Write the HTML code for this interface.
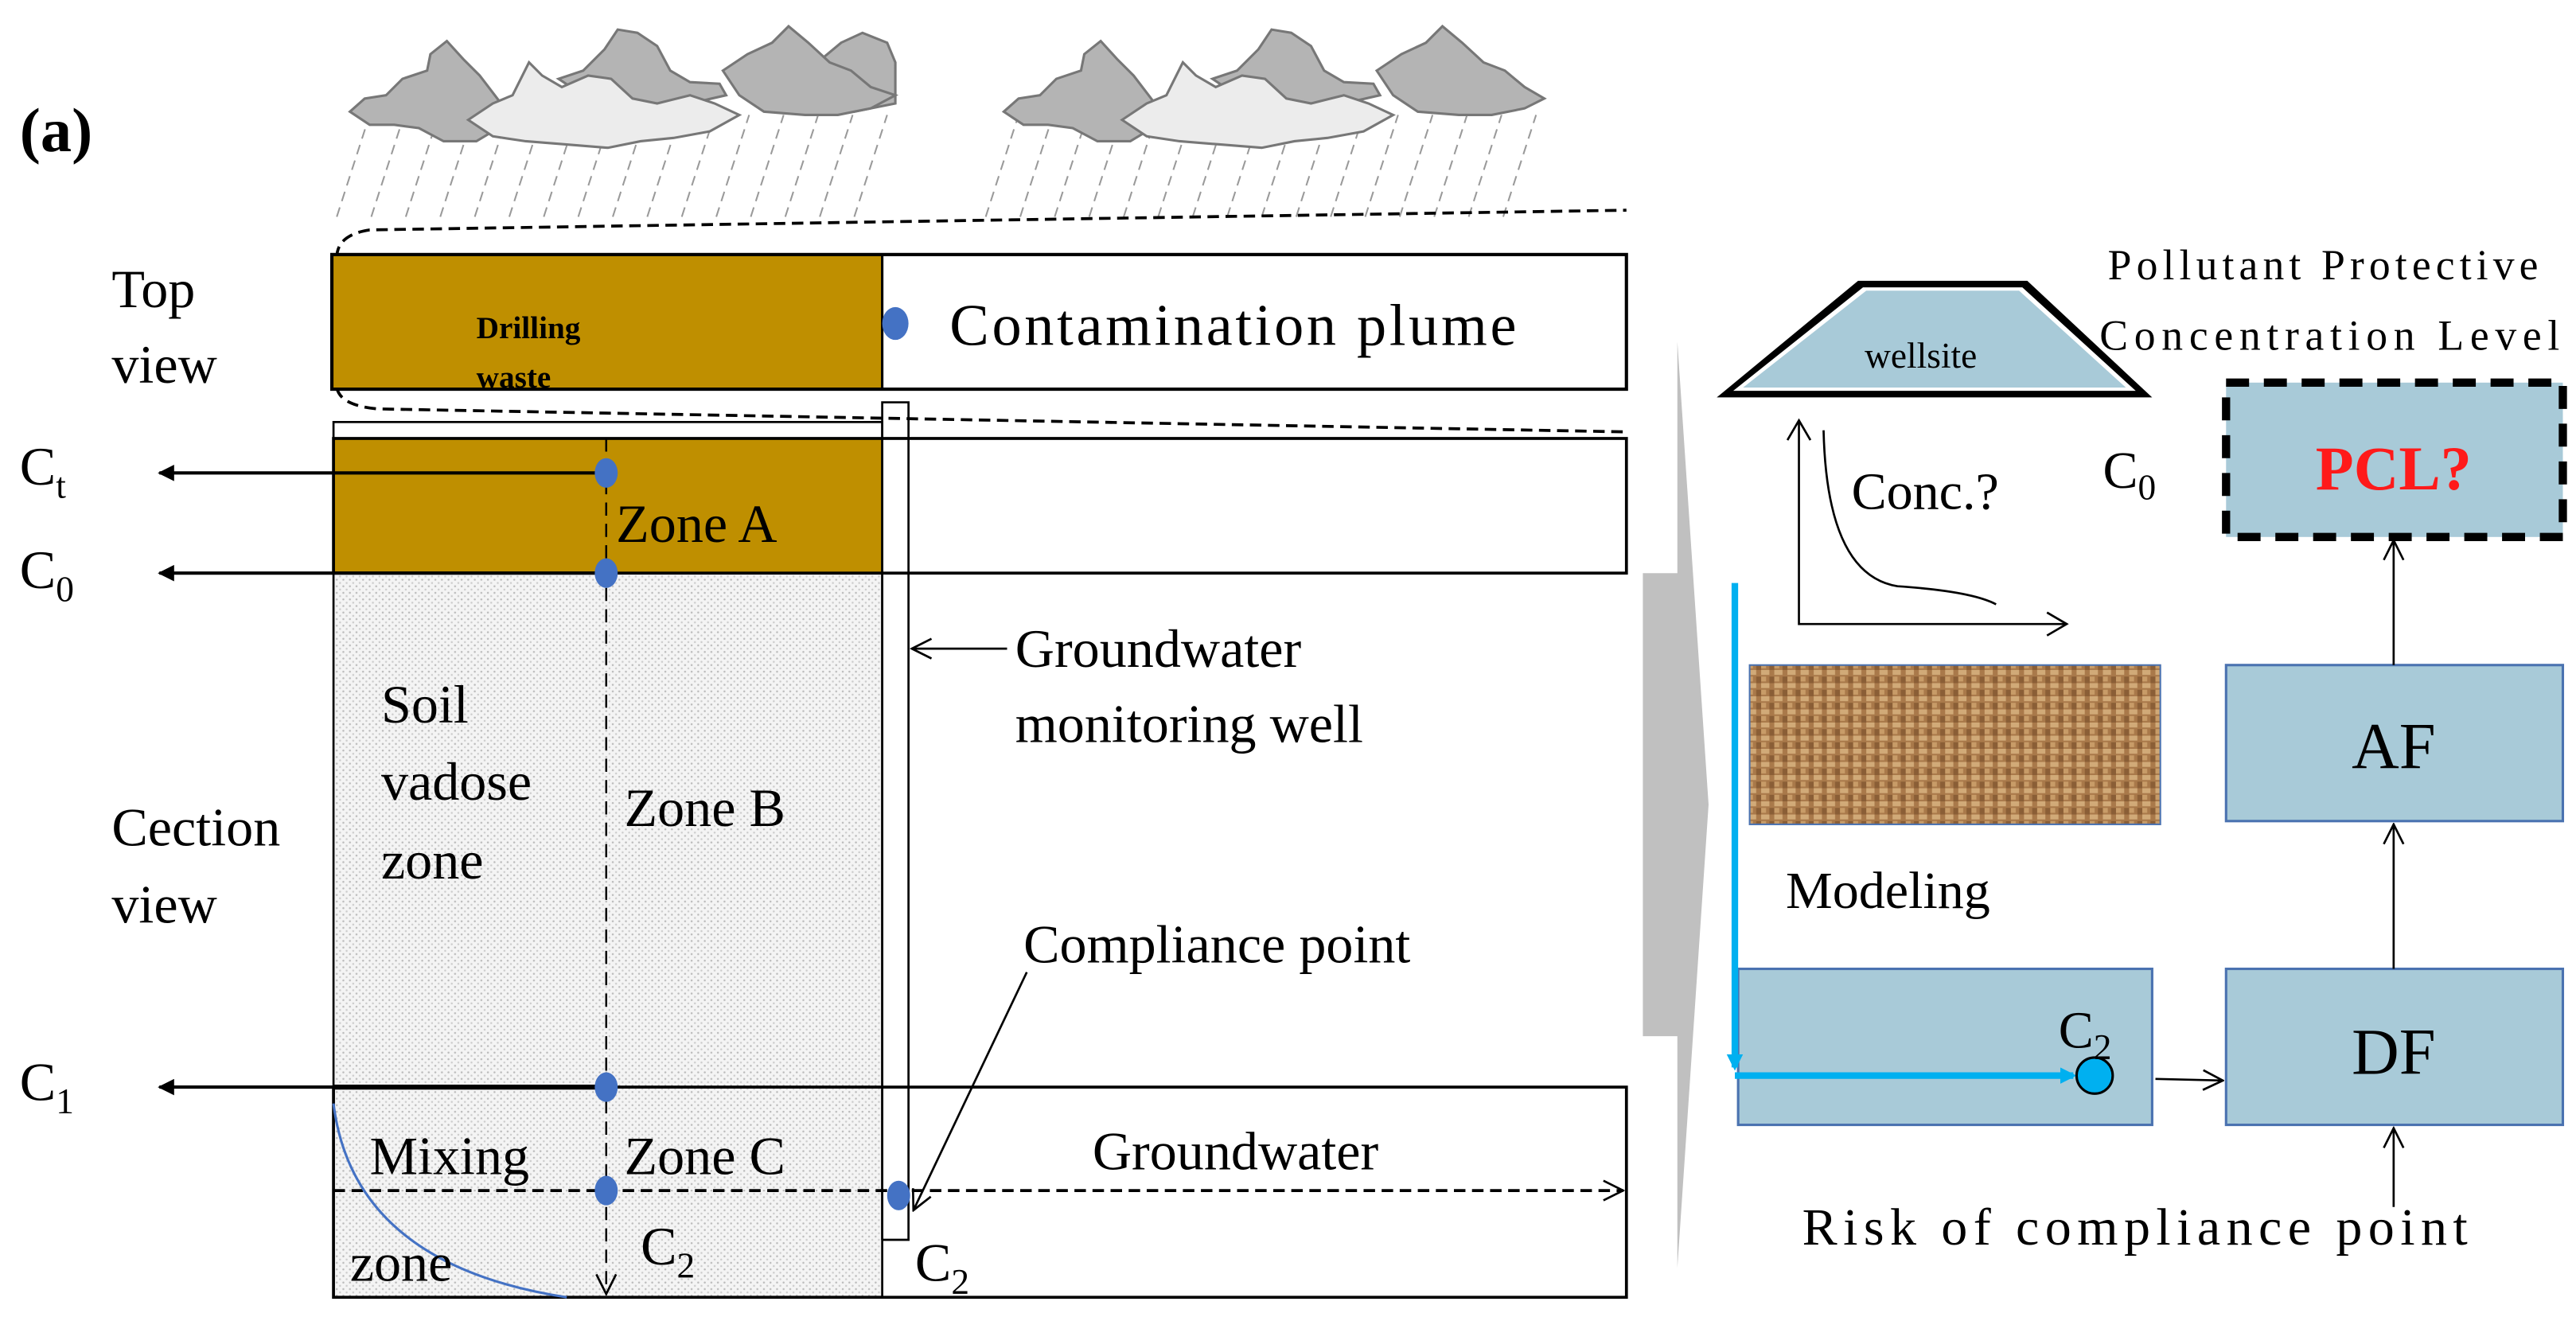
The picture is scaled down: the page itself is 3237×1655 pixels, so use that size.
<!DOCTYPE html>
<html><head><meta charset="utf-8"><style>
html,body{margin:0;padding:0;background:#fff;}
svg{display:block;}
text{font-family:"Liberation Serif",serif;fill:#000;}
</style></head><body>
<svg width="3237" height="1655" viewBox="0 0 1568 802" preserveAspectRatio="none" xmlns="http://www.w3.org/2000/svg">
<defs>
<pattern id="dots" width="4" height="4" patternUnits="userSpaceOnUse">
<rect width="4" height="4" fill="#f4f4f4"/><circle cx="1" cy="1" r="0.6" fill="#bbb"/><circle cx="3" cy="3" r="0.6" fill="#ccc"/>
</pattern>
<pattern id="burlap" width="8" height="8" patternUnits="userSpaceOnUse">
<rect width="8" height="8" fill="#a9794a"/><rect x="0" y="0" width="5" height="3" fill="#d1aa78"/><rect x="0" y="4" width="3" height="3" fill="#c89c68"/><rect x="5" y="4" width="3" height="4" fill="#8a5e36"/>
</pattern>
<marker id="ah" markerWidth="10" markerHeight="10" refX="9" refY="5" orient="auto" markerUnits="userSpaceOnUse"><path d="M0,0 L10,5 L0,10 z" fill="#000"/></marker>
<marker id="oa" markerWidth="14" markerHeight="14" refX="13" refY="7" orient="auto" markerUnits="userSpaceOnUse"><path d="M1,1 L13,7 L1,13" fill="none" stroke="#000" stroke-width="1.3"/></marker>
<marker id="ca" markerWidth="10" markerHeight="10" refX="8" refY="5" orient="auto" markerUnits="userSpaceOnUse"><path d="M0,0 L10,5 L0,10 z" fill="#00b0f0"/></marker>
</defs>

<text x="12" y="92" font-size="38" font-weight="bold">(a)</text>

<!-- rain -->
<g stroke="#9a9a9a" stroke-width="1" stroke-dasharray="6,4">
<path d="M205,132 L225,70 M226,132 L246,70 M247,132 L267,70 M268,132 L288,70 M289,132 L309,70 M310,132 L330,70 M331,132 L351,70 M352,132 L372,70 M373,132 L393,70 M394,132 L414,70 M415,132 L435,70 M436,132 L456,70 M457,132 L477,70 M478,132 L498,70 M499,132 L519,70 M520,132 L540,70
M600,132 L620,70 M621,132 L641,70 M642,132 L662,70 M663,132 L683,70 M684,132 L704,70 M705,132 L725,70 M726,132 L746,70 M747,132 L767,70 M768,132 L788,70 M789,132 L809,70 M810,132 L830,70 M831,132 L851,70 M852,132 L872,70 M873,132 L893,70 M894,132 L914,70 M915,132 L935,70"/>
</g>
<!-- clouds -->
<g transform="translate(0,8)" stroke="#777" stroke-width="1.5">
<path d="M213,60 L222,52 L235,50 L245,40 L260,35 L262,25 L272,17 L282,28 L292,38 L305,55 L315,65 L300,72 L290,78 L270,78 L255,70 L240,68 L225,68 Z" fill="#b4b4b4"/>
<path d="M340,40 L355,35 L368,22 L376,10 L388,12 L400,20 L408,35 L420,42 L438,43 L442,50 L420,55 L400,55 L380,52 L355,50 Z" fill="#b4b4b4"/>
<path d="M485,35 L500,28 L512,18 L525,12 L540,18 L545,30 L545,55 L520,60 L495,55 Z" fill="#b4b4b4"/>
<path d="M285,65 L300,55 L312,50 L322,30 L330,38 L342,45 L358,38 L372,40 L385,52 L400,55 L420,50 L435,55 L450,62 L432,72 L410,76 L390,78 L370,82 L345,80 L320,78 L300,75 Z" fill="#ececec"/>
<path d="M440,35 L455,25 L470,18 L480,8 L492,18 L505,30 L518,35 L530,45 L545,50 L530,58 L510,62 L490,62 L465,60 L450,50 Z" fill="#b4b4b4"/>
</g>
<g transform="translate(398,8)" stroke="#777" stroke-width="1.5">
<path d="M213,60 L222,52 L235,50 L245,40 L260,35 L262,25 L272,17 L282,28 L292,38 L305,55 L315,65 L300,72 L290,78 L270,78 L255,70 L240,68 L225,68 Z" fill="#b4b4b4"/>
<path d="M340,40 L355,35 L368,22 L376,10 L388,12 L400,20 L408,35 L420,42 L438,43 L442,50 L420,55 L400,55 L380,52 L355,50 Z" fill="#b4b4b4"/>
<path d="M285,65 L300,55 L312,50 L322,30 L330,38 L342,45 L358,38 L372,40 L385,52 L400,55 L420,50 L435,55 L450,62 L432,72 L410,76 L390,78 L370,82 L345,80 L320,78 L300,75 Z" fill="#ececec"/>
<path d="M440,35 L455,25 L470,18 L480,8 L492,18 L505,30 L518,35 L530,45 L542,52 L530,58 L510,62 L490,62 L465,60 L450,50 Z" fill="#b4b4b4"/>
</g>

<!-- dashed curves -->
<path d="M205,157 Q205,143 225,140 L990,128" fill="none" stroke="#000" stroke-width="1.8" stroke-dasharray="7,4"/>
<path d="M205,236 Q207,247 230,249 L990,263" fill="none" stroke="#000" stroke-width="1.8" stroke-dasharray="7,4"/>

<!-- top view -->
<rect x="202" y="155" width="335" height="82" fill="#bf8f00"/>
<rect x="202" y="155" width="788" height="82" fill="none" stroke="#000" stroke-width="2"/>
<line x1="537" y1="155" x2="537" y2="237" stroke="#000" stroke-width="1.5"/>
<text x="290" y="206" font-size="19" font-weight="bold">Drilling</text>
<text x="290" y="236" font-size="19" font-weight="bold">waste</text>
<ellipse cx="545" cy="197" rx="8" ry="10" fill="#4472c4"/>
<text x="578" y="210" font-size="36" textLength="345">Contamination plume</text>
<text x="68" y="187" font-size="33">Top</text>
<text x="68" y="233" font-size="33">view</text>

<!-- section -->
<rect x="203" y="257" width="334" height="10" fill="#fff" stroke="#000" stroke-width="1.3"/>
<rect x="203" y="267" width="334" height="82" fill="#bf8f00"/>
<rect x="203" y="349" width="334" height="441" fill="url(#dots)"/>
<rect x="203" y="267" width="787" height="82" fill="none" stroke="#000" stroke-width="1.8"/>
<rect x="203" y="662" width="787" height="128" fill="none" stroke="#000" stroke-width="1.8"/>
<line x1="203" y1="349" x2="203" y2="790" stroke="#000" stroke-width="1.3"/>
<line x1="537" y1="267" x2="537" y2="790" stroke="#000" stroke-width="1.3"/>
<line x1="203" y1="662" x2="369" y2="662" stroke="#000" stroke-width="3"/>
<path d="M537,755 L537,245 L553,245 L553,755 L537,755" fill="none" stroke="#000" stroke-width="1.3"/>
<line x1="369" y1="267" x2="369" y2="788" stroke="#000" stroke-width="1.2" stroke-dasharray="8,5" marker-end="url(#oa)"/>
<line x1="203" y1="725" x2="988" y2="725" stroke="#000" stroke-width="1.8" stroke-dasharray="7,4" marker-end="url(#oa)"/>
<path d="M203,672 Q215,770 345,790" fill="none" stroke="#4472c4" stroke-width="1.5"/>

<line x1="369" y1="288" x2="97" y2="288" stroke="#000" stroke-width="2" marker-end="url(#ah)"/>
<line x1="369" y1="349" x2="97" y2="349" stroke="#000" stroke-width="2" marker-end="url(#ah)"/>
<line x1="203" y1="662" x2="97" y2="662" stroke="#000" stroke-width="2" marker-end="url(#ah)"/>
<g fill="#4472c4">
<ellipse cx="369" cy="288" rx="7" ry="9"/><ellipse cx="369" cy="349" rx="7" ry="9"/><ellipse cx="369" cy="662" rx="7" ry="9"/><ellipse cx="369" cy="725" rx="7" ry="9"/><ellipse cx="547" cy="728" rx="7" ry="9"/>
</g>
<text x="12" y="295" font-size="33">C<tspan font-size="22" dy="8">t</tspan></text>
<text x="12" y="358" font-size="33">C<tspan font-size="22" dy="8">0</tspan></text>
<text x="12" y="670" font-size="33">C<tspan font-size="22" dy="8">1</tspan></text>
<text x="375" y="330" font-size="33">Zone A</text>
<text x="380" y="503" font-size="33">Zone B</text>
<text x="380" y="715" font-size="33">Zone C</text>
<text x="232" y="440" font-size="33">Soil</text>
<text x="232" y="487" font-size="33">vadose</text>
<text x="232" y="535" font-size="33">zone</text>
<text x="68" y="515" font-size="33">Cection</text>
<text x="68" y="562" font-size="33">view</text>
<text x="225" y="715" font-size="33">Mixing</text>
<text x="213" y="780" font-size="33">zone</text>
<text x="390" y="770" font-size="33">C<tspan font-size="22" dy="8">2</tspan></text>
<text x="557" y="780" font-size="33">C<tspan font-size="22" dy="8">2</tspan></text>
<text x="665" y="712" font-size="33">Groundwater</text>
<line x1="613" y1="395" x2="555" y2="395" stroke="#000" stroke-width="1.3" marker-end="url(#oa)"/>
<text x="618" y="406" font-size="33">Groundwater</text>
<text x="618" y="452" font-size="33">monitoring well</text>
<text x="623" y="586" font-size="33">Compliance point</text>
<line x1="625" y1="592" x2="556" y2="737" stroke="#000" stroke-width="1.3" marker-end="url(#oa)"/>

<!-- chevron -->
<path d="M1000,349 L1021,349 L1021,208 L1040,490 L1021,772 L1021,631 L1000,631 Z" fill="#c0c0c0"/>

<!-- right panel -->
<path d="M1045,242 L1131,171 L1234,171 L1310,242 Z" fill="#000"/>
<path d="M1055,238 L1134,175 L1231,175 L1300,238 Z" fill="#fff"/>
<path d="M1061,236 L1136,177 L1229,177 L1294,236 Z" fill="#a8cad8"/>
<text x="1135" y="224" font-size="22">wellsite</text>
<polyline points="1095,256 1095,380 1258,380" fill="none" stroke="#000" stroke-width="1.3"/>
<path d="M1088,268 L1095,256 L1102,268 M1246,373 L1258,380 L1246,387" fill="none" stroke="#000" stroke-width="1.3"/>
<path d="M1110,262 Q1112,350 1155,357 Q1200,360 1215,368" fill="none" stroke="#000" stroke-width="1.3"/>
<text x="1127" y="310" font-size="32">Conc.?</text>
<text x="1280" y="297" font-size="32">C<tspan font-size="22" dy="7">0</tspan></text>
<text x="1283" y="170" font-size="26" textLength="262">Pollutant  Protective</text>
<text x="1278" y="213" font-size="26" textLength="280">Concentration  Level</text>
<rect x="1355" y="233" width="205" height="94" fill="#a8cad8" stroke="#000" stroke-width="5" stroke-dasharray="14,9"/>
<text x="1457" y="298" font-size="38" font-weight="bold" style="fill:#ff1a1a" text-anchor="middle">PCL?</text>
<rect x="1355" y="405" width="205" height="95" fill="#a8cad8" stroke="#4a72b0" stroke-width="1.5"/>
<text x="1457" y="468" font-size="40" text-anchor="middle">AF</text>
<rect x="1355" y="590" width="205" height="95" fill="#a8cad8" stroke="#4a72b0" stroke-width="1.5"/>
<text x="1457" y="654" font-size="40" text-anchor="middle">DF</text>
<line x1="1457" y1="405" x2="1457" y2="329" stroke="#000" stroke-width="1.3" marker-end="url(#oa)"/>
<line x1="1457" y1="590" x2="1457" y2="502" stroke="#000" stroke-width="1.3" marker-end="url(#oa)"/>
<line x1="1457" y1="735" x2="1457" y2="687" stroke="#000" stroke-width="1.3" marker-end="url(#oa)"/>
<text x="1097" y="758" font-size="32" textLength="405">Risk of compliance point</text>
<rect x="1065" y="405" width="250" height="97" fill="url(#burlap)" stroke="#4a72b0" stroke-width="1"/>
<text x="1087" y="553" font-size="32">Modeling</text>
<rect x="1058" y="590" width="252" height="95" fill="#a8cad8" stroke="#4a72b0" stroke-width="1.5"/>
<line x1="1056" y1="355" x2="1056" y2="650" stroke="#00b0f0" stroke-width="4" marker-end="url(#ca)"/>
<line x1="1056" y1="655" x2="1262" y2="655" stroke="#00b0f0" stroke-width="4" marker-end="url(#ca)"/>
<circle cx="1275" cy="655" r="11" fill="#00b0f0" stroke="#000" stroke-width="1.5"/>
<text x="1253" y="638" font-size="32">C<tspan font-size="22" dy="7">2</tspan></text>
<line x1="1312" y1="657" x2="1353" y2="658" stroke="#000" stroke-width="1.3" marker-end="url(#oa)"/>
</svg>
</body></html>
